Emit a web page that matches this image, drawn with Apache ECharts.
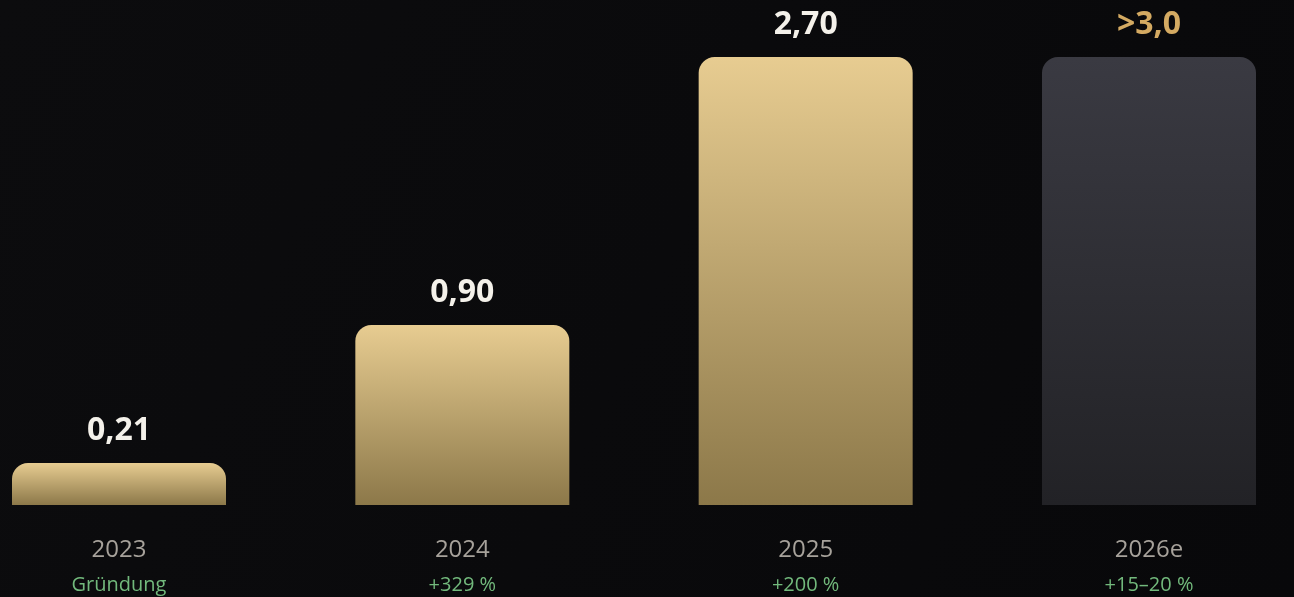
<!DOCTYPE html>
<html>
<head>
<meta charset="utf-8">
<script src="https://cdn.jsdelivr.net/npm/echarts@6/dist/echarts.min.js"></script>
<style>
  html, body { margin: 0; padding: 0; background: #0b0b0d; }
  #chart { width: 1294px; height: 597px; }
</style>
</head>
<body>
<div id="chart"></div>
<script>
// years, growth notes, shown labels and bar heights as drawn (bars are capped)
const years = ['2023', '2024', '2025', '2026e']
const notes = ['Gründung', '+329 %', '+200 %', '+15–20 %']
const valueLabels = ['0,21', '0,90', '2,70', '>3,0']
const barHeights = [0.21, 0.90, 2.24, 2.24]
const estimated = [false, false, false, true]

const goldFill = new echarts.graphic.LinearGradient(0, 0, 0, 1, [
  { offset: 0, color: '#e7cc91' },
  { offset: 1, color: '#8c7849' }
])
const greyFill = new echarts.graphic.LinearGradient(0, 0, 0, 1, [
  { offset: 0, color: '#3a3a42' },
  { offset: 1, color: '#222226' }
])

const seriesData = barHeights.map((h, i) => ({
  value: h,
  itemStyle: { color: estimated[i] ? greyFill : goldFill },
  label: { color: estimated[i] ? '#d4aa62' : '#f4f1ea' }
}))

const chart = echarts.init(document.getElementById('chart'))
chart.setOption({
  backgroundColor: new echarts.graphic.LinearGradient(0, 0, 1, 1, [
    { offset: 0, color: '#0c0c0e' },
    { offset: 1, color: '#08080a' }
  ]),
  animation: false,
  grid: { left: 119, right: 145, top: 57, bottom: 92 },
  xAxis: {
    type: 'category',
    data: years,
    boundaryGap: false,
    axisLine: { show: false },
    axisTick: { show: false },
    axisLabel: {
      margin: 28,
      formatter: function(v, i) {
        return '{y|' + v + '}\n{n|' + notes[i] + '}'
      },
      rich: {
        y: { fontFamily: 'Open Sans', fontSize: 24, color: '#a7a29b', lineHeight: 34 },
        n: { fontFamily: 'Open Sans', fontSize: 20, color: '#72b97c', lineHeight: 36 }
      }
    }
  },
  yAxis: {
    type: 'value',
    min: 0,
    max: 2.24,
    show: false,
    splitLine: { show: false }
  },
  series: [
    {
      type: 'bar',
      barWidth: 214,
      clip: false,
      data: seriesData,
      itemStyle: { borderRadius: [16, 16, 0, 0] },
      label: {
        show: true,
        position: 'top',
        distance: 16,
        fontFamily: 'Open Sans',
        fontWeight: 'bold',
        fontSize: 32,
        formatter: function(p) { return valueLabels[p.dataIndex] }
      }
    }
  ]
})
</script>
</body>
</html>
